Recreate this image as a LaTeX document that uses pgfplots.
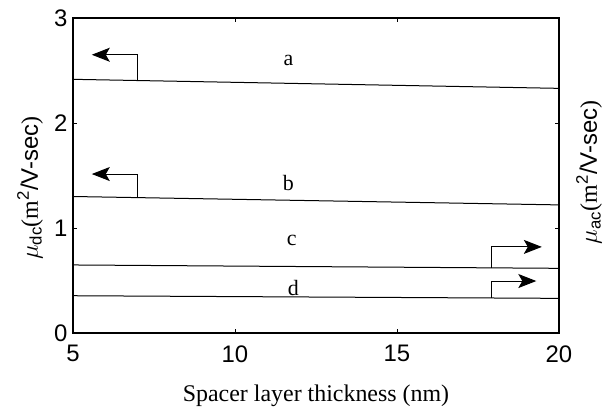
\documentclass[border=0pt]{standalone}
\usepackage{fontspec}
\setmainfont{Liberation Serif}
\setsansfont{Liberation Sans}
\usepackage{pgfplots}
\pgfplotsset{compat=1.18}
\usetikzlibrary{arrows.meta}

\begin{document}
\begin{tikzpicture}
\path[use as bounding box] (-73bp,-74bp) rectangle (535bp,333bp);
\begin{axis}[
    at={(0,0)}, anchor=south west,
    scale only axis,
    width=486bp, height=315bp,
    xmin=5, xmax=20, ymin=0, ymax=3,
    xtick={5,10,15,20}, ytick={0,1,2,3},
    tick align=inside,
    tick pos=both,
    major tick length=4bp,
    axis line style={line width=1.1bp},
    every tick/.style={black, line width=0.9bp},
    tick label style={font=\sffamily\fontsize{24}{26}\selectfont},
    xticklabel style={yshift=-9bp},
    yticklabel style={xshift=-2bp},
    /pgf/number format/assume math mode=true,
    xlabel={Spacer layer thickness (nm)},
    xlabel style={font=\fontsize{24}{26}\selectfont, yshift=-16bp},
    clip=false,
    arr/.style={black, no marks, line width=1bp,
      -{Stealth[length=18bp,width=14bp,inset=4bp,black,fill=black]}},
]
% curves
\addplot[black, no marks, line width=1bp] coordinates {(5,2.416) (20,2.330)};
\addplot[black, no marks, line width=1bp] coordinates {(5,1.300) (20,1.220)};
\addplot[black, no marks, line width=1bp] coordinates {(5,0.648) (20,0.616)};
\addplot[black, no marks, line width=1bp] coordinates {(5,0.355) (20,0.330)};
% arrows (left axis)
\addplot[arr] coordinates {(7.0,2.405) (7.0,2.65) (5.58,2.65)};
\addplot[arr] coordinates {(7.0,1.285) (7.0,1.514) (5.58,1.514)};
% arrows (right axis)
\addplot[arr] coordinates {(17.93,0.618) (17.93,0.82) (19.47,0.82)};
\addplot[arr] coordinates {(17.93,0.332) (17.93,0.495) (19.30,0.495)};
% labels
\node[font=\fontsize{22}{24}\selectfont] at (axis cs:11.65,2.6) {a};
\node[font=\fontsize{22}{24}\selectfont] at (axis cs:11.65,1.43) {b};
\node[font=\fontsize{22}{24}\selectfont] at (axis cs:11.75,0.88) {c};
\node[font=\fontsize{22}{24}\selectfont] at (axis cs:11.8,0.43) {d};
% axis titles
\node[rotate=90, font=\fontsize{24}{26}\selectfont] at ([xshift=-43bp]rel axis cs:0,0.46)
  {$\mu$\textsf{\textsubscript{dc}}(m\textsuperscript{\textsf{2}}\textsf{/V-sec})};
\node[rotate=90, font=\fontsize{24}{26}\selectfont] at ([xshift=30bp]rel axis cs:1,0.51)
  {$\mu$\textsf{\textsubscript{ac}}(m\textsuperscript{\textsf{2}}\textsf{/V-sec})};
\end{axis}
\end{tikzpicture}
\end{document}
